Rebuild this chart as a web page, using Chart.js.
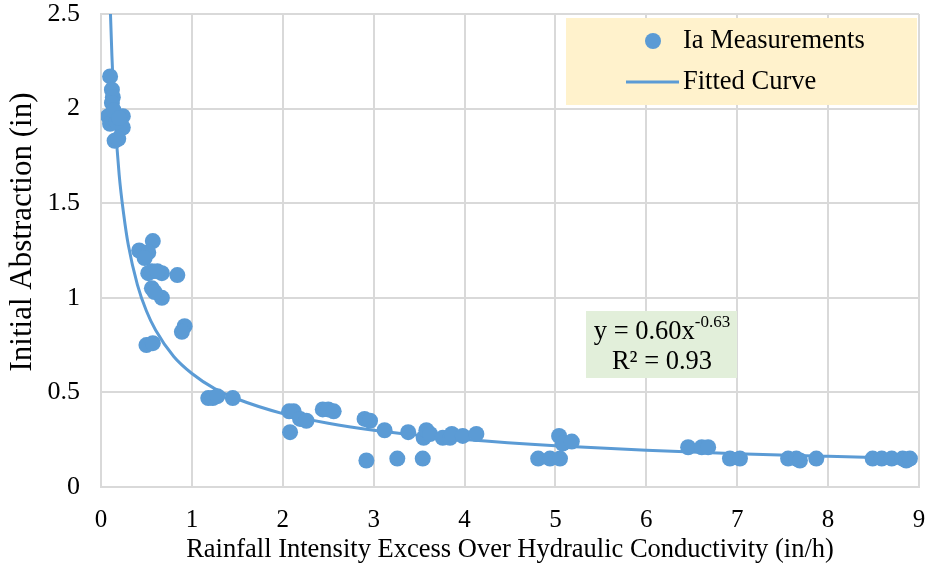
<!DOCTYPE html>
<html>
<head>
<meta charset="utf-8">
<script src="https://cdn.jsdelivr.net/npm/chart.js@4.4.0/dist/chart.umd.min.js"></script>
<style>
  html, body { margin: 0; padding: 0; background: #fff; }
  #wrap { width: 927px; height: 573px; }
</style>
</head>
<body>
<div id="wrap"><canvas id="iaChart" width="927" height="573"></canvas></div>
<script>
// Measured points (x = intensity excess, y = initial abstraction)
const measX = [0.10, 0.12, 0.13, 0.12, 0.08, 0.24, 0.10, 0.24, 0.15, 0.19, 0.17, 0.14, 0.20,
  0.57, 0.42, 0.52, 0.48, 0.56, 0.67, 0.84, 0.56, 0.67, 0.59, 0.92, 0.89, 0.50, 0.57, 0.52, 0.62,
  1.18, 1.23, 1.28, 1.45,
  2.07, 2.12, 2.08, 2.19, 2.26, 2.44, 2.50, 2.56,
  2.90, 2.96, 2.92, 3.12, 3.26, 3.38, 3.54, 3.55, 3.58, 3.62, 3.76, 3.84, 3.86, 3.98, 4.13,
  5.04, 5.08, 5.18, 4.81, 4.94, 5.05, 6.46, 6.61, 6.68, 6.92, 7.03,
  7.56, 7.65, 7.69, 7.87, 8.49, 8.59, 8.70, 8.82, 8.86, 8.90];
const measY = [2.17, 2.10, 2.06, 2.03, 1.96, 1.96, 1.92, 1.90, 1.83, 1.84, 1.93, 1.99, 1.95,
  1.30, 1.25, 1.24, 1.21, 1.14, 1.13, 1.12, 1.05, 1.00, 1.03, 0.85, 0.82, 0.75, 0.76, 1.13, 1.14,
  0.47, 0.47, 0.48, 0.47,
  0.40, 0.40, 0.29, 0.36, 0.35, 0.41, 0.41, 0.40,
  0.36, 0.35, 0.14, 0.30, 0.15, 0.29, 0.15, 0.26, 0.30, 0.28, 0.26, 0.26, 0.28, 0.27, 0.28,
  0.27, 0.23, 0.24, 0.15, 0.15, 0.15, 0.21, 0.21, 0.21, 0.15, 0.15,
  0.15, 0.15, 0.14, 0.15, 0.15, 0.15, 0.15, 0.15, 0.14, 0.15];

// Fitted power curve y = 0.60x^-0.63, tabulated
const fitX = [0.085, 0.10, 0.12, 0.15, 0.20, 0.25, 0.30, 0.40, 0.50, 0.60, 0.80, 1.00, 1.25, 1.50,
  2.0, 2.5, 3.0, 3.5, 4.0, 5.0, 6.0, 7.0, 8.0, 8.9];
const fitY = [2.84, 2.56, 2.28, 1.98, 1.65, 1.44, 1.28, 1.07, 0.93, 0.83, 0.69, 0.60, 0.52, 0.465,
  0.388, 0.337, 0.300, 0.273, 0.251, 0.218, 0.194, 0.176, 0.162, 0.151];

const xTicks = [0, 1, 2, 3, 4, 5, 6, 7, 8, 9];
const yTicks = [0, 0.5, 1, 1.5, 2, 2.5];

const blue = '#5B9BD5';
const serif = '"Liberation Serif", "Times New Roman", serif';

// Legend, equation box and y-axis title drawn on top
const boxesPlugin = {
  id: 'boxes',
  afterDraw(chart) {
    const ctx = chart.ctx;
    ctx.save();
    // legend
    ctx.fillStyle = '#FFF2CC';
    ctx.fillRect(566, 18, 351, 87);
    ctx.fillStyle = blue;
    ctx.beginPath();
    ctx.arc(653, 41, 8, 0, Math.PI * 2);
    ctx.fill();
    ctx.strokeStyle = blue;
    ctx.lineWidth = 3;
    ctx.beginPath();
    ctx.moveTo(626, 82);
    ctx.lineTo(679, 82);
    ctx.stroke();
    ctx.fillStyle = '#000';
    ctx.font = '26.5px ' + serif;
    ctx.textBaseline = 'middle';
    ctx.textAlign = 'left';
    ctx.fillText('Ia Measurements', 683, 41);
    ctx.fillText('Fitted Curve', 683, 82);
    // equation
    ctx.fillStyle = '#E2EFDA';
    ctx.fillRect(586, 311, 151, 67);
    ctx.fillStyle = '#000';
    ctx.font = '26.5px ' + serif;
    const main = 'y = 0.60x';
    const sup = '-0.63';
    const w1 = ctx.measureText(main).width;
    ctx.font = '17px ' + serif;
    const w2 = ctx.measureText(sup).width;
    const sx = 662 - (w1 + w2) / 2;
    ctx.font = '26.5px ' + serif;
    ctx.fillText(main, sx, 332);
    ctx.font = '17px ' + serif;
    ctx.fillText(sup, sx + w1, 323);
    ctx.font = '26.5px ' + serif;
    ctx.textAlign = 'center';
    ctx.fillText('R² = 0.93', 662, 362);
    // y-axis title
    ctx.translate(23, 232);
    ctx.rotate(-Math.PI / 2);
    ctx.font = '31px ' + serif;
    ctx.fillText('Initial Abstraction (in)', 0, 0);
    ctx.restore();
  }
};

const ctx = document.getElementById('iaChart').getContext('2d');
const iaChart = new Chart(ctx, {
  type: 'scatter',
  data: {
    datasets: [{
      label: 'Ia Measurements',
      data: measX.map((x, i) => ({ x: x, y: measY[i] })),
      backgroundColor: blue,
      borderColor: blue,
      pointRadius: 8,
      pointHoverRadius: 8,
      borderWidth: 0,
      order: 1
    }, {
      label: 'Fitted Curve',
      type: 'line',
      data: fitX.map((x, i) => ({ x: x, y: fitY[i] })),
      borderColor: blue,
      borderWidth: 3,
      pointRadius: 0,
      fill: false,
      cubicInterpolationMode: 'monotone',
      order: 2
    }]
  },
  options: {
    responsive: false,
    animation: false,
    layout: { padding: { top: 14, right: 8, left: 0, bottom: 0 } },
    plugins: {
      legend: { display: false },
      tooltip: { enabled: false }
    },
    scales: {
      x: {
        type: 'linear',
        min: 0,
        max: 9,
        afterFit(scale) {
          scale.height = 86;
          scale.paddingLeft = 0;
          scale.paddingRight = 0;
        },
        afterBuildTicks(scale) { scale.ticks = xTicks.map(v => ({ value: v })); },
        grid: { color: '#D9D9D9', lineWidth: 2, drawTicks: false },
        border: { color: '#D9D9D9', width: 2 },
        ticks: { color: '#000', font: { family: serif, size: 25 }, padding: 18 },
        title: {
          display: true,
          text: 'Rainfall Intensity Excess Over Hydraulic Conductivity (in/h)',
          color: '#000',
          font: { family: serif, size: 26.5, lineHeight: 1.2 },
          padding: { top: 0, bottom: 7 }
        }
      },
      y: {
        type: 'linear',
        min: 0,
        max: 2.5,
        afterFit(scale) {
          scale.width = 101;
          scale.paddingTop = 0;
          scale.paddingBottom = 0;
        },
        afterBuildTicks(scale) { scale.ticks = yTicks.map(v => ({ value: v })); },
        grid: { color: '#D9D9D9', lineWidth: 2, drawTicks: false },
        border: { color: '#D9D9D9', width: 2 },
        ticks: {
          color: '#000',
          font: { family: serif, size: 26 },
          padding: 21,
          callback: v => String(v)
        },
        title: { display: false }
      }
    }
  },
  plugins: [boxesPlugin]
});
</script>
</body>
</html>
